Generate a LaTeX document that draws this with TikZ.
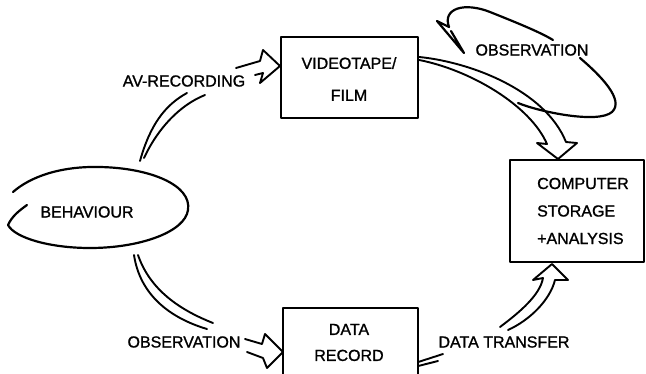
\documentclass[tikz,border=0pt]{standalone}
\usepackage{fontspec}
\setmainfont{Liberation Sans}[FakeBold=1.2]
\begin{document}
\begin{tikzpicture}[x=1pt, y=-1pt, line join=round, line cap=round,
  lbl/.style={inner sep=0pt, font=\fontsize{16}{18}\selectfont},
  box/.style={draw, line width=2.4pt, inner sep=0pt},
  fat/.style={line width=1.9pt},
  loop/.style={line width=2.2pt}]
\useasboundingbox (0,0) rectangle (646,373);

% ---- boxes ----
\node[box, minimum width=137pt, minimum height=81pt] (vt) at (349.5,77.5) {};
\node[lbl, align=center, font=\fontsize{16}{32}\selectfont] (vtt) at (349,79) {VIDEOTAPE/\\FILM};

\node[box, minimum width=134pt, minimum height=102pt] (comp) at (577,211) {};
\node[lbl, align=left, anchor=west, font=\fontsize{16}{27.5}\selectfont] (compt) at (537,211)
  {COMPUTER\\STORAGE\\+ANALYSIS};

% data record box runs past the lower edge: only three sides show
\node[inner sep=0pt, minimum width=135pt, minimum height=92pt] (dr) at (350.5,354) {};
\draw[line width=2.4pt] (dr.south west) -- (dr.north west) -- (dr.north east) -- (dr.south east);
\node[lbl, align=center, font=\fontsize{16}{26}\selectfont] (drt) at (349,342.5) {DATA\\RECORD};

% ---- behaviour outline ----
\node[lbl] (beh) at (87,212) {BEHAVIOUR};
\draw[loop] (13,192) .. controls (30,177) and (60,166) .. (100,167)
  .. controls (150,168) and (192,185) .. (188,210)
  .. controls (185,232) and (140,248) .. (90,248)
  .. controls (50,248) and (15,238) .. (8,225)
  .. controls (12,216) and (20,210) .. (27,205);

% ---- labels ----
\node[lbl] (avl) at (184,81) {AV-RECORDING};
\node[lbl] (obsb) at (184,342) {OBSERVATION};
\node[lbl] (dtl) at (504,342) {DATA TRANSFER};
\node[lbl] (obst) at (532,50) {OBSERVATION};

% ---- behaviour -> videotape ----
\draw[fat] (140,161) .. controls (150,125) and (165,105) .. (187,93);
\draw[fat] (144,158) .. controls (158,128) and (180,105) .. (205,95);
\draw[fat] (236,68) -- (260,61) -- (263,50) -- (280,66) -- (260,83) -- (263,73) -- (255,75);

% ---- videotape -> computer ----
\draw[fat] (vt.east |- 0,57) .. controls (470,62) and (545,90) .. (566,142)
  -- (577,143) -- (558,159) -- (537,143) -- (547,144)
  .. controls (530,105) and (470,70) .. (vt.east |- 0,60);

% ---- observation loop on the videotape ----
\draw[loop] (449,27) -- (437,21) -- (464,53) -- (451,31);
\draw[loop] (449,27) .. controls (442,8) and (465,2) .. (490,12)
  .. controls (515,22) and (540,32) .. (553,40);
\draw[loop] (580,58) .. controls (600,75) and (625,100) .. (612,112)
  .. controls (598,124) and (540,112) .. (518,103);

% ---- behaviour -> data record ----
\draw[fat] (134,255) .. controls (140,295) and (170,318) .. (207,329);
\draw[fat] (138,255) .. controls (150,290) and (180,310) .. (213,323);
\draw[fat] (245,339) -- (262,344) -- (265,334) -- (283,352) -- (267,368) -- (263,358) -- (247,352);

% ---- data record -> computer ----
\draw[fat] (dr.east |- 0,362) -- (443,354);
\draw[fat] (dr.east |- 0,366) -- (438,361);
\draw[fat] (500,327) .. controls (520,312) and (540,295) .. (543,278)
  -- (533,280) -- (552,264) -- (568,280) -- (555,280)
  .. controls (550,300) and (530,320) .. (508,330);
\end{tikzpicture}
\end{document}
